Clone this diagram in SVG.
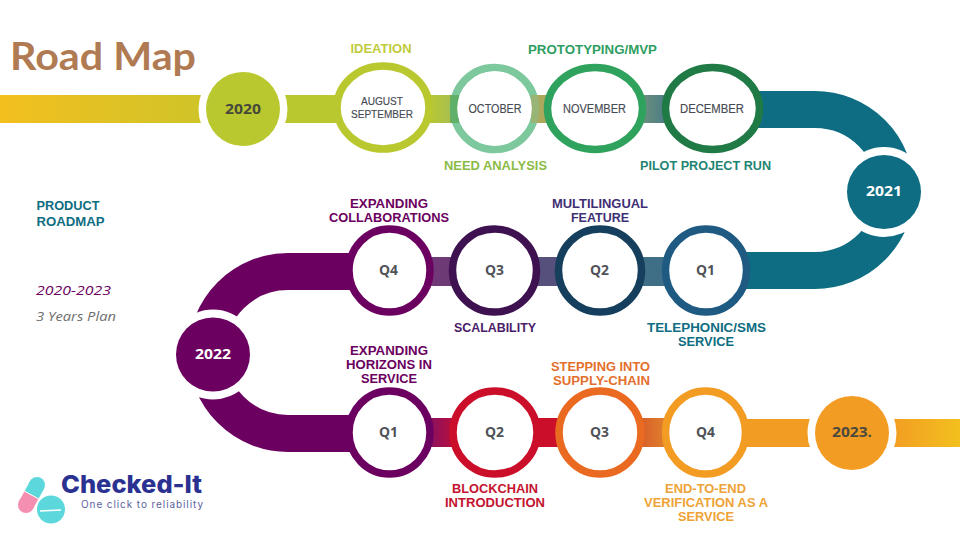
<svg xmlns="http://www.w3.org/2000/svg" width="960" height="540" viewBox="0 0 960 540">
<style>
.ring{fill:#fff;stroke-width:7.5}
.halo{fill:#fff}
.lab{font-family:"Liberation Sans",Arial,sans-serif;font-weight:700;font-size:13.5px;text-anchor:middle;lengthAdjust:spacingAndGlyphs}
.mon{font-family:"Liberation Sans",Arial,sans-serif;font-size:12px;fill:#464a52;text-anchor:middle;stroke:#464a52;stroke-width:.15}
.q{font-family:"Open Sans",sans-serif;font-weight:700;font-size:14px;fill:#4f5358;text-anchor:middle}
.yr{font-family:"Open Sans",sans-serif;font-weight:700;font-size:14px;text-anchor:middle}
.side{font-family:"Open Sans",sans-serif;font-size:13.5px;font-style:italic}
.arm{fill:none;stroke-width:37}
</style>
<defs>
<linearGradient id="g1" x1="0" x2="1" y1="0" y2="0"><stop offset="0" stop-color="#f3bf1f"/><stop offset="1" stop-color="#cfc429"/></linearGradient>
<linearGradient id="g2" x1="0" x2="1" y1="0" y2="0"><stop offset="0" stop-color="#b9c82e"/><stop offset="1" stop-color="#a5bd58"/></linearGradient>
<linearGradient id="g3" x1="0" x2="1" y1="0" y2="0"><stop offset="0" stop-color="#6b8f7c"/><stop offset="1" stop-color="#4a7b88"/></linearGradient>
<linearGradient id="g4" x1="0" x2="1" y1="0" y2="0"><stop offset="0" stop-color="#733878"/><stop offset="1" stop-color="#6b3a75"/></linearGradient>
<linearGradient id="g5" x1="0" x2="1" y1="0" y2="0"><stop offset="0" stop-color="#d8602a"/><stop offset="1" stop-color="#e0802c"/></linearGradient>
<linearGradient id="g6" x1="0" x2="1" y1="0" y2="0"><stop offset="0" stop-color="#f39c23"/><stop offset="1" stop-color="#f2c01e"/></linearGradient>
<linearGradient id="g7" x1="0" x2="1" y1="0" y2="0"><stop offset="0" stop-color="#8a1062"/><stop offset="1" stop-color="#b80f3c"/></linearGradient>
</defs>
<text x="10" y="70" font-family="Lato,sans-serif" font-weight="700" font-size="38.5" fill="#b07b52" textLength="186" lengthAdjust="spacingAndGlyphs">Road Map</text>
<g id="connectors">
<rect x="0" y="95" width="205" height="28" fill="url(#g1)"/>
<rect x="280" y="95" width="60" height="28" fill="#b9c82e"/>
<rect x="428" y="95" width="28" height="28" fill="url(#g2)"/>
<rect x="534" y="95" width="14" height="28" fill="#aba95c"/>
<rect x="643" y="95" width="24" height="28" fill="url(#g3)"/>
<path class="arm" stroke="#0e6d82" d="M755 109.5H815A80.5 80.5 0 0 1 815 270.5H742"/>
<rect x="430" y="257" width="24" height="29" fill="url(#g4)"/>
<rect x="536" y="257" width="24" height="29" fill="#55507c"/>
<rect x="642" y="257" width="24" height="29" fill="#3f6f86"/>
<path class="arm" stroke="#6b0060" d="M355 271.5H288A81 81 0 0 0 288 433.500H355"/>
<rect x="430" y="418" width="24" height="29" fill="url(#g7)"/>
<rect x="536" y="418" width="24" height="29" fill="#cb0e2a"/>
<rect x="642" y="418" width="24" height="29" fill="url(#g5)"/>
<rect x="745" y="419" width="70" height="28" fill="#f39c23"/>
<rect x="890" y="419" width="70" height="28" fill="url(#g6)"/>
</g>
<g id="y2020"><circle class="halo" cx="243" cy="109" r="44.5"/><circle cx="243" cy="109" r="37" fill="#b9c82e"/><text class="yr" x="243" y="114" fill="#47493a" textLength="36" lengthAdjust="spacingAndGlyphs">2020</text></g>
<g id="aug"><ellipse class="ring" cx="383" cy="107.5" rx="46" ry="41.5" stroke="#b9c82e"/><text class="mon" x="382" y="105" style="font-size:11px" textLength="42" lengthAdjust="spacingAndGlyphs">AUGUST</text><text class="mon" x="382" y="118" style="font-size:11px" textLength="62" lengthAdjust="spacingAndGlyphs">SEPTEMBER</text><text class="lab" x="381" y="53" fill="#bfcb3a" textLength="61" lengthAdjust="spacingAndGlyphs">IDEATION</text></g>
<g id="oct"><ellipse cx="494.500" cy="108.500" rx="41" ry="41" fill="none" stroke="#7dc89c" stroke-width="7.5"/><rect x="450" y="95" width="9" height="28" fill="#4ea04a" opacity=".6"/><rect x="531" y="95" width="9" height="28" fill="#aba95c" opacity=".6"/><ellipse cx="494.500" cy="108.500" rx="37.250" ry="37.250" fill="#fff"/><text class="mon" x="495" y="113" textLength="53" lengthAdjust="spacingAndGlyphs">OCTOBER</text><text class="lab" x="495.500" y="170" fill="#8cbb46" textLength="103" lengthAdjust="spacingAndGlyphs">NEED ANALYSIS</text></g>
<g id="nov"><ellipse class="ring" cx="595" cy="108.500" rx="47.500" ry="41" stroke="#2fa35d"/><text class="mon" x="594.500" y="113" textLength="63" lengthAdjust="spacingAndGlyphs">NOVEMBER</text><text class="lab" x="592.500" y="54" fill="#2f9e63" textLength="129" lengthAdjust="spacingAndGlyphs">PROTOTYPING/MVP</text></g>
<g id="dec"><ellipse class="ring" cx="712.500" cy="108.500" rx="47" ry="41" stroke="#207a45"/><text class="mon" x="712" y="113" textLength="64" lengthAdjust="spacingAndGlyphs">DECEMBER</text><text class="lab" x="705.500" y="170" fill="#1f8475" textLength="131" lengthAdjust="spacingAndGlyphs">PILOT PROJECT RUN</text></g>
<g id="y2021"><circle class="halo" cx="884" cy="192" r="45"/><circle cx="884" cy="192" r="37" fill="#0e6d82"/><text class="yr" x="884" y="196" fill="#fff" textLength="36" lengthAdjust="spacingAndGlyphs">2021</text></g>
<g id="q1a"><ellipse class="ring" cx="706" cy="270.500" rx="40.500" ry="41.500" stroke="#1f5a82"/><text class="q" x="705.500" y="275" textLength="19" lengthAdjust="spacingAndGlyphs">Q1</text><text class="lab" x="706.500" y="332" fill="#0e6d82" textLength="119" lengthAdjust="spacingAndGlyphs">TELEPHONIC/SMS</text><text class="lab" x="706" y="346" fill="#0e6d82" textLength="56" lengthAdjust="spacingAndGlyphs">SERVICE</text></g>
<g id="q2a"><ellipse class="ring" cx="600" cy="270.500" rx="41.500" ry="41.500" stroke="#153f5c"/><text class="q" x="599.500" y="275" textLength="19" lengthAdjust="spacingAndGlyphs">Q2</text><text class="lab" x="600" y="208" fill="#3e2f74" textLength="96" lengthAdjust="spacingAndGlyphs">MULTILINGUAL</text><text class="lab" x="600" y="222" fill="#3e2f74" textLength="58" lengthAdjust="spacingAndGlyphs">FEATURE</text></g>
<g id="q3a"><ellipse class="ring" cx="494.500" cy="270.500" rx="42" ry="41.500" stroke="#3e1250"/><text class="q" x="494.500" y="275" textLength="19" lengthAdjust="spacingAndGlyphs">Q3</text><text class="lab" x="495" y="332" fill="#4b1b6a" textLength="82" lengthAdjust="spacingAndGlyphs">SCALABILITY</text></g>
<g id="q4a"><ellipse class="ring" cx="389.500" cy="270.500" rx="40.500" ry="41.500" stroke="#6b0060"/><text class="q" x="388.500" y="275" textLength="19" lengthAdjust="spacingAndGlyphs">Q4</text><text class="lab" x="389" y="208" fill="#6b0060" textLength="78" lengthAdjust="spacingAndGlyphs">EXPANDING</text><text class="lab" x="389" y="222" fill="#6b0060" textLength="120" lengthAdjust="spacingAndGlyphs">COLLABORATIONS</text></g>
<g id="y2022"><circle class="halo" cx="213" cy="354.500" r="45"/><circle cx="213" cy="354.500" r="37" fill="#6b0060"/><text class="yr" x="213" y="359" fill="#fff" textLength="36" lengthAdjust="spacingAndGlyphs">2022</text></g>
<g id="q1b"><ellipse class="ring" cx="389.500" cy="432.500" rx="40.500" ry="41.500" stroke="#6b0060"/><text class="q" x="388.500" y="437" textLength="19" lengthAdjust="spacingAndGlyphs">Q1</text><text class="lab" x="389" y="355" fill="#6b0060" textLength="78" lengthAdjust="spacingAndGlyphs">EXPANDING</text><text class="lab" x="389" y="369" fill="#6b0060" textLength="86" lengthAdjust="spacingAndGlyphs">HORIZONS IN</text><text class="lab" x="389" y="383" fill="#6b0060" textLength="56" lengthAdjust="spacingAndGlyphs">SERVICE</text></g>
<g id="q2b"><ellipse class="ring" cx="495" cy="432.500" rx="42" ry="41.500" stroke="#cb0e2a"/><text class="q" x="494.500" y="437" textLength="19" lengthAdjust="spacingAndGlyphs">Q2</text><text class="lab" x="495" y="493" fill="#c4122f" textLength="86" lengthAdjust="spacingAndGlyphs">BLOCKCHAIN</text><text class="lab" x="495" y="507" fill="#c4122f" textLength="100" lengthAdjust="spacingAndGlyphs">INTRODUCTION</text></g>
<g id="q3b"><ellipse class="ring" cx="600" cy="432.500" rx="41" ry="41.500" stroke="#e96a20"/><text class="q" x="599.500" y="437" textLength="19" lengthAdjust="spacingAndGlyphs">Q3</text><text class="lab" x="600.500" y="371" fill="#e36f2c" textLength="99" lengthAdjust="spacingAndGlyphs">STEPPING INTO</text><text class="lab" x="601.500" y="385" fill="#e36f2c" textLength="97" lengthAdjust="spacingAndGlyphs">SUPPLY-CHAIN</text></g>
<g id="q4b"><ellipse class="ring" cx="705.500" cy="432.500" rx="40" ry="41.500" stroke="#f39c23"/><text class="q" x="705.500" y="437" textLength="19" lengthAdjust="spacingAndGlyphs">Q4</text><text class="lab" x="705.500" y="493" fill="#eea336" textLength="81" lengthAdjust="spacingAndGlyphs">END-TO-END</text><text class="lab" x="706" y="507" fill="#eea336" textLength="124" lengthAdjust="spacingAndGlyphs">VERIFICATION AS A</text><text class="lab" x="706" y="521" fill="#eea336" textLength="56" lengthAdjust="spacingAndGlyphs">SERVICE</text></g>
<g id="y2023"><circle class="halo" cx="852" cy="433" r="44.500"/><circle cx="852" cy="433" r="37" fill="#f39c23"/><text class="yr" x="852" y="437" fill="#4b4a3e" textLength="40" lengthAdjust="spacingAndGlyphs">2023.</text></g>
<g id="side">
<text x="36.500" y="210" font-family="Liberation Sans,Arial,sans-serif" font-size="13" font-weight="700" fill="#0e6d82" textLength="63" lengthAdjust="spacingAndGlyphs">PRODUCT</text>
<text x="36.500" y="226" font-family="Liberation Sans,Arial,sans-serif" font-size="13" font-weight="700" fill="#0e6d82" textLength="68" lengthAdjust="spacingAndGlyphs">ROADMAP</text>
<text class="side" x="36" y="295" font-weight="500" fill="#6b0060" textLength="75" lengthAdjust="spacingAndGlyphs">2020-2023</text>
<text class="side" x="36" y="321" fill="#6e6e6e" textLength="80" lengthAdjust="spacingAndGlyphs">3 Years Plan</text>
</g>
<g id="logo">
<circle cx="37" cy="485" r="8" fill="#5cd8dc"/>
<path d="M37 485L31.500 495" stroke="#5cd8dc" stroke-width="16"/>
<circle cx="26" cy="505" r="8" fill="#f58fb2"/>
<path d="M31.500 495L26 505" stroke="#f58fb2" stroke-width="16"/>
<path d="M24.500 491.100L38.500 498.900" stroke="#fff" stroke-width="1"/>
<circle cx="51" cy="509.500" r="14" fill="#5cd8dc"/>
<path d="M40 511L61 510" stroke="#fff" stroke-width="1.500"/>
<text x="61" y="493" font-family="Inter,sans-serif" font-weight="800" font-size="24.5" fill="#2b3191" textLength="141" lengthAdjust="spacingAndGlyphs">Checked-It</text>
<text x="81" y="508" font-family="Inter,sans-serif" font-size="10" fill="#5c5f9e" textLength="122">One click to reliability</text>
</g>
</svg>
